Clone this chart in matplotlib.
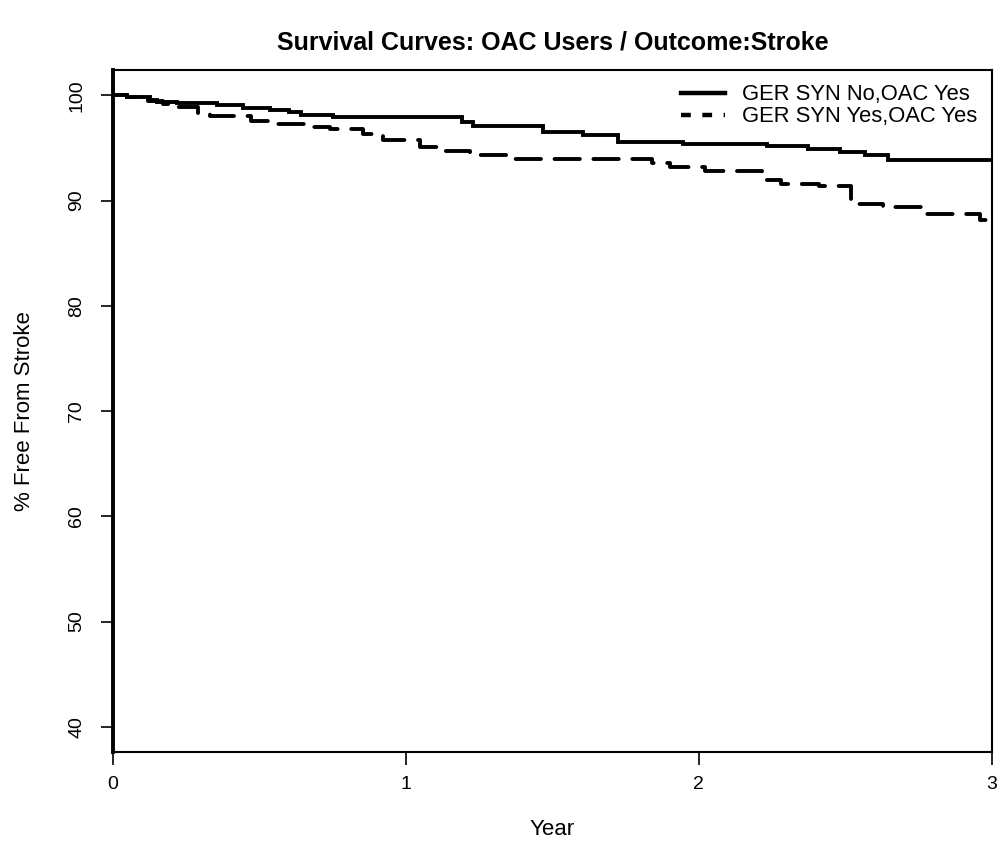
import matplotlib
matplotlib.use('Agg')
import matplotlib.pyplot as plt
from matplotlib.lines import Line2D

plt.rcParams.update({
    'font.family': ['Liberation Sans', 'DejaVu Sans'],
    'font.size': 14,
})

# Kaplan-Meier style steps (years, % free from stroke)
years_no = [0, 0.048, 0.126, 0.150, 0.218, 0.355, 0.444, 0.536, 0.60, 0.64,
            0.751, 1.19, 1.23, 1.468, 1.604, 1.724, 1.945, 2.232, 2.372,
            2.481, 2.567, 2.645, 3.0]
surv_no = [100, 99.8, 99.6, 99.4, 99.3, 99.1, 98.8, 98.6, 98.4, 98.1,
           97.9, 97.5, 97.1, 96.5, 96.2, 95.6, 95.4, 95.2, 94.9,
           94.6, 94.3, 93.9, 93.9]

years_yes = [0, 0.048, 0.12, 0.17, 0.22, 0.29, 0.33, 0.47, 0.546, 0.683,
             0.74, 0.853, 0.92, 1.048, 1.126, 1.22, 1.345, 1.84, 1.90, 2.02,
             2.215, 2.28, 2.41, 2.52, 2.53, 2.63, 2.76, 2.96, 3.0]
surv_yes = [100, 99.8, 99.5, 99.2, 98.85, 98.3, 98.0, 97.6, 97.3, 96.95,
            96.8, 96.3, 95.75, 95.1, 94.7, 94.36, 93.95, 93.6, 93.15, 92.85,
            91.96, 91.6, 91.4, 89.85, 89.7, 89.4, 88.7, 88.17, 88.17]

labels = ['GER SYN No,OAC Yes', 'GER SYN Yes,OAC Yes']
x_ticks = [0, 1, 2, 3]
y_ticks = [40, 50, 60, 70, 80, 90, 100]

fig = plt.figure(figsize=(10.01, 8.44), dpi=100)
ax = fig.add_axes([0.1129, 0.109, 0.878, 0.808])

ax.step(years_no, surv_no, where='post', color='black', lw=2.8,
        solid_joinstyle='miter')
ax.step(years_yes, surv_yes, where='post', color='black', lw=2.8,
        dashes=(6.5, 3.5), dash_capstyle='round')

ax.set_xlim(0, 3)
ax.set_ylim(37.6, 102.4)
ax.set_xticks(x_ticks)
ax.set_yticks(y_ticks)
ax.set_yticklabels([str(v) for v in y_ticks], rotation=90, va='center')
ax.tick_params(axis='both', direction='out', length=9, width=1.2,
               labelsize=14, color='black')
ax.tick_params(axis='y', pad=11)
ax.tick_params(axis='x', pad=8)

for side in ['top', 'right', 'bottom']:
    ax.spines[side].set_linewidth(1.5)
ax.spines['left'].set_linewidth(2.8)

ax.set_xlabel('Year', fontsize=16, labelpad=19)
ax.set_ylabel('% Free From Stroke', fontsize=16, labelpad=24)
ax.set_title('Survival Curves: OAC Users / Outcome:Stroke',
             fontsize=18, fontweight='bold', pad=15)

handles = [Line2D([], [], color='black', lw=3.2),
           Line2D([], [], color='black', lw=3.2, dashes=(2.2, 2.6))]
ax.legend(handles, labels, loc='upper right', frameon=False,
          fontsize=15.8, handlelength=2.0, handletextpad=0.8,
          labelspacing=0.05, borderaxespad=0.25)

fig.savefig('out.png', dpi=100)
